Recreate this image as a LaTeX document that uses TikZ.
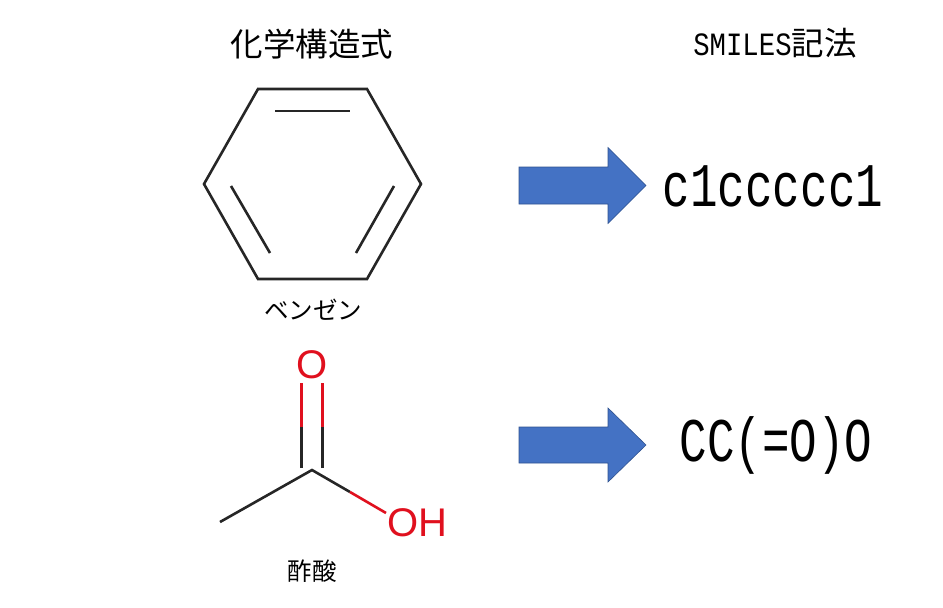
\documentclass[tikz,border=0pt]{standalone}
\usepackage{fontspec}
\setmainfont{Liberation Sans}
\newfontfamily\cjk{Noto Sans CJK JP}
\newfontfamily\codefont[FakeStretch=0.74]{Liberation Mono}
\newfontfamily\titlefont[FakeStretch=0.84]{Liberation Mono}
\definecolor{arrowblue}{HTML}{4472C4}
\definecolor{arrowedge}{HTML}{2F528F}
\definecolor{atomred}{HTML}{E0101E}
\tikzset{
  bond/.style={line width=2.6pt, black!85},
  redbond/.style={line width=2.6pt, atomred},
  atom/.style={text=atomred, font=\fontsize{40}{40}\selectfont, inner sep=0pt},
  fatarrow/.style={fill=arrowblue, draw=arrowedge, line width=0.6pt},
  heading/.style={inner sep=0pt, font=\fontsize{32.5}{32.5}\selectfont},
  caption/.style={inner sep=0pt, font=\cjk\fontsize{24.5}{24.5}\selectfont},
  smiles/.style={inner sep=0pt, font=\codefont\fontsize{62}{62}\selectfont}
}
\begin{document}
\begin{tikzpicture}[x=1pt,y=-1pt]
\useasboundingbox (0,0) rectangle (943,608);

% Headings
\node[heading] (head1) at (312,44) {\cjk 化学構造式};
\node[heading] (head2) at (775,43) {\titlefont SMILES\cjk 記法};

% Benzene ring
\draw[bond] (258,89) -- (367,89) -- (421,184) -- (367,279) -- (258,279) -- (204,184) -- cycle;
\draw[bond] (275,111) -- (350,111);
\draw[bond] (231,186) -- (270,253);
\draw[bond] (394,186) -- (356,253);
\node[caption] (name1) at (313,310) {ベンゼン};

% Acetic acid
\node[atom] (oxygen) at (312,365) {O};
\node[atom] (hydroxyl) at (417,523) {OH};
\coordinate (carbon) at (312,470);
\coordinate (methyl) at (220,522);
\coordinate (split) at (350,492);
\draw[bond] (methyl) -- (carbon) -- (split);
\draw[redbond] (split) -- (386,513);
\foreach \x in {301.5,322.5} {
    \draw[bond] (\x,468) -- (\x,427);
    \draw[redbond] (\x,427) -- (\x,383);
}
\node[caption] (name2) at (312,571) {酢酸};

% Arrows
\foreach \y/\h/\a in {185.5/18.5/38,445/18/37} {
    \draw[fatarrow] (519,\y-\h) -- (608,\y-\h) -- (608,\y-\a) -- (646,\y) -- (608,\y+\a) -- (608,\y+\h) -- (519,\y+\h) -- cycle;
}

% SMILES strings
\node[smiles] (code1) at (773,186) {c1ccccc1};
\node[smiles] (code2) at (776,445) {CC(=O)O};

\end{tikzpicture}
\end{document}
